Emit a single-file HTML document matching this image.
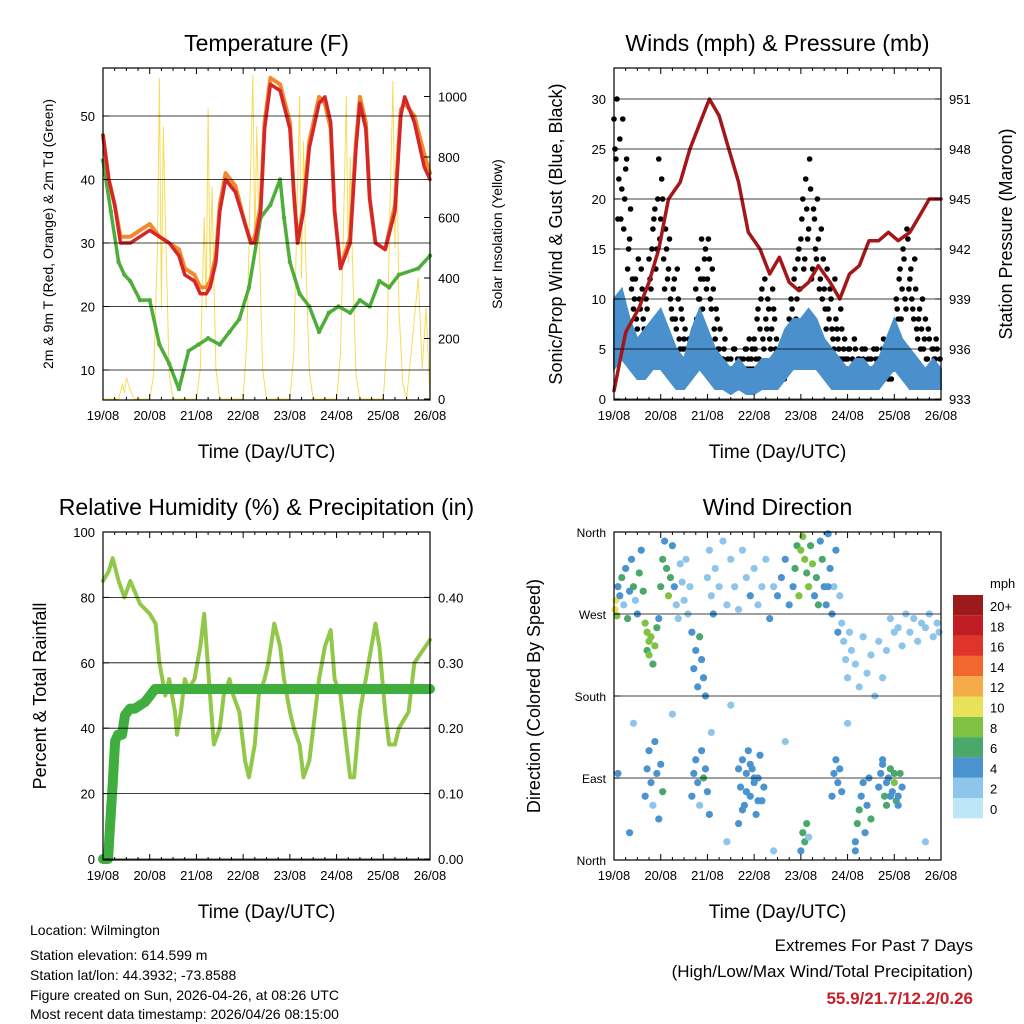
<!DOCTYPE html>
<html><head><meta charset="utf-8"><style>
body{margin:0;background:#fff;}
svg{display:block;font-family:"Liberation Sans",sans-serif;}
</style></head><body>
<svg id="chart" width="1024" height="1024" viewBox="0 0 1024 1024" xmlns="http://www.w3.org/2000/svg">
<rect width="1024" height="1024" fill="#fff"/>
<g id="g"></g>
<text x="30" y="935" font-size="14">Location: Wilmington</text>
<text x="30" y="960" font-size="14">Station elevation: 614.599 m</text>
<text x="30" y="980" font-size="14">Station lat/lon: 44.3932; -73.8588</text>
<text x="30" y="1000" font-size="14">Figure created on Sun, 2026-04-26, at 08:26 UTC</text>
<text x="30" y="1019" font-size="14">Most recent data timestamp: 2026/04/26 08:15:00</text>
<text x="973" y="951" font-size="17" text-anchor="end">Extremes For Past 7 Days</text>
<text x="973" y="977" font-size="17" text-anchor="end">(High/Low/Max Wind/Total Precipitation)</text>
<text x="973" y="1004" font-size="17" font-weight="bold" fill="#c8202a" text-anchor="end">55.9/21.7/12.2/0.26</text>
</svg>
<script>
const dayLabels=["19/08","20/08","21/08","22/08","23/08","24/08","25/08","26/08"];
const tHours=[0,3,6,9,14,19,24,29,34,39,42,47,50,53,55,58,60,63,68,73,76,78,81,83,86,91,96,98,100,103,106,111,114,117,119,122,127,130,132,135,137,140,145,150,153,155,160,165,168];
const tRed=[47,40,36,30,30,31,32,31,30,28,25,24,22,22,23,27,35,40,38,33,30,30,35,48,55,54,48,38,30,35,45,52,53,49,35,26,30,45,52,48,37,30,29,35,50,53,49,42,40];
const tOrange=[47,40,36,31,31,32,33,31,30,29,26,25,23,23,24,28,36,41,39,33,30,31,36,49,56,55,49,38,30,36,46,53,52,48,35,26,31,46,53,49,37,30,29,36,51,52,50,44,41];
const tdHours=[0,4,8,11,14,19,24,29,34,39,44,49,54,60,65,70,75,81,86,91,93,96,101,106,111,116,121,127,132,137,142,147,152,162,168];
const tDew=[43,35,27,25,24,21,21,14,11,7,13,14,15,14,16,18,23,34,36,40,34,27,22,20,16,19,20,19,21,20,24,23,25,26,28];
const solHours=[0,8,10,11,12,14,16,20,24,26,28,29,30,31,32,34,36,44,48,50,52,53,54,55,56,58,60,68,72,74,76,77,78,79,80,82,84,92,96,98,100,101,102,103,104,106,108,116,120,122,124,125,126,127,128,130,132,140,144,146,148,149,150,151,152,154,156,162,164,166,168];
const solar=[0,0,50,20,70,30,0,0,0,80,500,1060,300,900,600,80,0,0,0,100,600,300,960,400,700,100,0,0,0,200,800,1070,500,900,600,100,0,0,0,150,700,1000,400,850,500,90,0,0,0,150,700,1000,450,800,500,80,0,0,0,200,800,1050,500,850,300,50,0,400,100,300,0];
const pHours=[0,6,13,18,23,28,34,39,44,49,54,59,64,69,75,80,85,90,95,100,105,111,116,121,126,131,136,141,146,152,157,162,168];
const pressure=[933.5,937,938.5,940,942,945,946,948,949.5,951,950,948,946,943,942,940.5,941.5,940,939.5,940,941,940,939,940.5,941,942.5,942.5,943,942.5,943,944,945,945];
const windHours=[0,4,8,12,16,20,24,28,32,36,40,44,48,52,56,60,64,68,72,76,80,84,88,92,96,100,104,108,112,116,120,124,128,132,136,140,144,148,152,156,160,164,168];
const windLo=[3,4,3,2,2,3,3,2,1,1,2,3,2,1,1,0.5,1,0.5,0.5,1,1,1,2,3,3,3,3,2,1,1,1,1,1,1,1,2,3,2,1,1,1,1,1];
const windHi=[10,11,8,6,7,8,9,7,5,4,7,9,7,5,4,3,4,3,3,4,4,5,7,8,8,9,8,6,5,4,3,4,4,3,4,6,8,6,5,4,3,4,3];
const gust=[25,30,22,18,28,20,24,15,19,12,10,8,14,9,11,7,10,6,12,15,18,13,20,16,
22,14,17,12,16,9,11,8,13,6,9,5,7,4,6,3,5,3,8,10,12,9,14,11,
16,10,13,7,9,5,7,4,5,3,4,2,3,5,2,4,3,2,4,5,3,6,4,3,
5,8,4,10,6,12,7,9,5,11,8,6,4,3,5,2,4,3,6,9,12,8,14,11,
18,13,22,16,24,12,19,15,20,11,17,14,9,13,8,10,6,12,7,5,9,4,6,3,
5,3,4,6,2,4,3,5,2,3,4,2,3,5,4,3,2,4,6,3,5,4,2,3,
6,9,12,8,15,10,17,11,13,9,14,7,8,5,10,6,4,7,3,5,4,6,3,4];
const gust2=[28,24,18,26,21,17,23,13,16,11,9,12,7,10,13,8,6,9,14,11,17,19,15,24,
18,20,11,15,13,10,8,12,7,10,5,8,6,5,4,6,4,7,11,13,10,16,12,15,
12,14,9,11,6,8,5,3,4,6,3,2,4,3,5,2,3,4,2,3,5,4,3,5,
6,4,9,7,11,5,8,10,6,7,9,5,3,4,2,5,3,4,8,10,7,13,10,15,
16,20,14,19,17,21,13,18,14,16,12,10,11,7,9,11,7,5,8,6,4,7,5,4,
4,5,3,2,5,3,4,2,4,5,3,3,4,2,3,5,4,3,5,4,3,2,4,5,
7,10,8,13,11,14,9,16,12,10,8,11,6,9,7,5,8,4,6,3,5,4,5,3];
const rhHours=[0,3,5,8,11,14,19,24,27,29,32,34,37,38,40,42,44,47,50,52,55,57,60,62,65,67,70,73,75,78,80,83,85,88,91,93,96,98,101,103,106,109,111,114,117,119,122,124,127,129,132,135,137,140,142,145,147,150,152,157,160,168];
const rh=[85,88,92,85,80,85,78,75,72,60,50,55,45,38,45,55,52,55,65,75,50,35,40,50,55,50,45,30,25,35,50,55,60,72,65,55,45,40,35,25,30,45,55,65,70,55,50,40,25,25,45,55,62,72,65,45,35,35,40,45,60,67];
const prHours=[0,2.6,3.6,5.1,6.2,7.7,9.8,11.3,13.9,16.4,21.6,24.2,26.7,168];
const precip=[0,0,0.05,0.12,0.18,0.19,0.19,0.22,0.23,0.23,0.24,0.25,0.26,0.26];
const dirHours=[
0.5,1,1.5,2,3,4,5,6,7,8,
9,10,11,12,13,14,15,16,17,18,
17,18,19,20,21,22,23,24,25,26,
27,28,29,30,31,32,33,34,35,36,
37,38,39,40,41,42,43,44,45,46,
47,48,49,50,51,52,54,56,58,60,
62,64,66,68,70,72,74,76,78,80,
82,84,86,88,90,92,93,94,95,96,
97,98,99,100,101,102,103,104,105,106,
107,108,109,110,111,112,113,114,115,116,
117,118,119,120,121,122,124,126,128,130,
132,134,136,138,152,154,156,158,160,162,
164,166,167,150,148,146,140,144,142,110,
16,17,18,19,20,21,22,23,24,25,
40,41,42,43,44,45,46,47,48,49,
64,65,66,67,68,69,70,71,72,73,
74,75,76,77,64,66,68,70,72,74,
96,97,98,99,112,113,114,115,116,117,
124,125,126,127,128,129,130,131,132,124,
136,137,138,139,140,141,142,143,144,145,
146,147,148,138,140,142,144,146,2,8,
10,30,50,58,60,82,88,100,120,160];
const dirDeg=[
275,285,268,300,290,310,280,320,265,295,
330,300,285,270,315,340,295,260,250,240,
230,225,245,215,235,255,265,300,330,350,
320,290,310,345,300,280,265,325,305,285,
330,270,300,250,210,230,190,245,220,200,
180,310,340,290,270,320,300,350,280,330,
300,275,340,310,290,320,280,300,330,265,
300,290,310,330,280,300,320,345,290,340,
355,330,315,300,345,325,290,310,280,350,
330,300,280,358,320,270,300,340,250,290,
260,240,220,200,250,230,215,190,245,205,
225,180,240,200,250,265,240,260,255,270,
245,260,250,270,235,255,230,250,265,300,
70,100,120,85,60,130,95,45,105,75,
70,95,110,85,60,120,90,100,75,50,
40,80,110,60,95,120,70,100,85,50,
90,115,65,80,100,55,75,105,90,65,
10,30,20,40,70,95,110,85,100,75,
20,40,55,70,85,30,60,90,45,10,
80,95,110,70,60,90,100,75,85,65,
70,95,80,105,85,70,95,60,95,30,
150,160,140,20,170,10,130,25,150,20];
const dirSpd=[
10,9,8,3,4,5,2,4,6,3,
4,5,2,3,6,4,5,7,7,8,
6,7,8,6,7,5,4,6,5,4,
6,7,5,4,3,2,1,2,1,2,
1,2,1,4,4,3,4,5,4,3,
4,2,1,2,3,1,2,1,2,1,
2,1,2,1,3,1,2,1,2,3,
2,3,4,3,4,3,5,6,7,8,
7,8,6,7,5,8,4,6,5,4,
5,4,3,4,3,4,2,3,4,2,
2,1,2,1,2,1,2,1,2,1,
1,2,1,2,1,2,1,2,1,2,
1,2,1,2,1,2,1,2,1,4,
4,3,4,4,2,4,3,4,3,5,
4,3,4,4,2,4,6,4,3,4,
4,3,4,4,3,4,3,4,4,3,
4,3,4,4,4,4,3,4,3,4,
4,6,6,5,3,4,3,4,3,4,
4,5,6,4,4,4,3,4,5,4,
4,3,4,6,5,4,6,4,7,5,
4,5,4,3,4,3,6,4,4,4,
1,2,1,2,1,1,2,1,2,1];

const NS="http://www.w3.org/2000/svg";
const G=document.getElementById('g');
function mk(tag,attrs,parent){const e=document.createElementNS(NS,tag);for(const k in attrs)e.setAttribute(k,attrs[k]);(parent||G).appendChild(e);return e;}
function txt(s,attrs,parent){const e=mk('text',attrs,parent);e.textContent=s;return e;}
function panel(p){
  const g=mk('g',{});
  
  
  p.g=g;
  p.x=h=>p.x0+h/168*(p.x1-p.x0);
  return p;
}
function frame(p){
  const r=mk('rect',{x:p.x0,y:p.y0,width:p.x1-p.x0,height:p.y1-p.y0,fill:'none',stroke:'#000','stroke-width':1.2},p.g);
  
  
  for(let h=0;h<=168;h+=6){
    const X=p.x(h);const L=h%24==0?6:3;
    mk('line',{x1:X,x2:X,y1:p.y1,y2:p.y1-L,stroke:'#000'},p.g);
    mk('line',{x1:X,x2:X,y1:p.y0,y2:p.y0+L,stroke:'#000'},p.g);
  }
  dayLabels.forEach((d,i)=>{
    const t=txt(d,{x:p.x(i*24),y:p.y1+20,'font-size':13,'text-anchor':'middle'},p.g);
    
    
  });
  const xt=txt('Time (Day/UTC)',{x:(p.x0+p.x1)/2,y:p.y1+58,'font-size':19,'text-anchor':'middle'},p.g);
  
  
  const tt=txt(p.title,{x:(p.x0+p.x1)/2,y:p.y0-17,'font-size':23,'text-anchor':'middle'},p.g);
  
  
}
function yAxis(p,scale,ticks,labels,side,grid,fs){
  ticks.forEach((v,i)=>{
    const Y=scale(v);
    if(grid) mk('line',{x1:p.x0,x2:p.x1,y1:Y,y2:Y,stroke:'#000','stroke-width':0.8},p.g);
    const X=side=='l'?p.x0:p.x1;
    mk('line',{x1:X,x2:side=='l'?X+6:X-6,y1:Y,y2:Y,stroke:'#000'},p.g);
    if(labels){
      const t=txt(labels[i],{x:side=='l'?X-8:X+8,y:Y+5,'font-size':fs||13,'text-anchor':side=='l'?'end':'start'},p.g);
      
      
    }
  });
}
function ytitle(p,s,x,fs,name){
  const cy=(p.y0+p.y1)/2;
  const t=txt(s,{x:x,y:cy,'font-size':fs,'text-anchor':'middle',transform:`rotate(-90 ${x} ${cy})`},p.g);
  
  
}
function line(p,hs,vs,sc,color,w,name){
  const d=hs.map((h,i)=>(i?'L':'M')+p.x(h).toFixed(1)+','+sc(vs[i]).toFixed(1)).join('');
  const e=mk('path',{d:d,fill:'none',stroke:color,'stroke-width':w,'stroke-linejoin':'round','stroke-linecap':'round'},p.g);
  
  
  return e;
}
function dots(p,hs,vs,sc,color,r,name){
  const g=mk('g',{},p.g);
  
  
  hs.forEach((h,i)=>{const c=mk('circle',{cx:p.x(h),cy:sc(vs[i]),r:r,fill:color},g);
    
    });
}
// Panel 1
const p1=panel({name:'temperature-panel',x0:103,x1:430,y0:68,y1:400,title:'Temperature (F)'});
const tY=v=>370-(v-10)*6.35, sY=v=>399-v*0.3025;
line(p1,solHours,solar,sY,'#f7dc5a',1,'solar-line');
line(p1,tdHours,tDew,tY,'#4fae3a',3.5,'dewpoint-line');
dots(p1,tdHours,tDew,tY,'#4fae3a',2.2,'dewpoint-dots');
line(p1,tHours,tOrange,tY,'#f08a2a',4,'temp-9m-line');
line(p1,tHours,tRed,tY,'#d7262a',3.5,'temp-2m-line');
yAxis(p1,tY,[10,20,30,40,50],['10','20','30','40','50'],'l',true);
yAxis(p1,sY,[0,200,400,600,800,1000],['0','200','400','600','800','1000'],'r',false);
ytitle(p1,'2m & 9m T (Red, Orange) & 2m Td (Green)',53,14,'y-axis-title');
ytitle(p1,'Solar Insolation (Yellow)',502,14,'y2-axis-title');
frame(p1);
// Panel 2
const p2=panel({name:'winds-panel',x0:614,x1:941,y0:68,y1:400,title:'Winds (mph) & Pressure (mb)'});
const wY=v=>399-v*10, pY=v=>399-(v-933)*50/3;
dots(p2,gust.map((v,i)=>i+0.5),gust,wY,'#000',2.8,'gust-dots');
dots(p2,gust2.map((v,i)=>i),gust2,wY,'#000',2.8,'gust-dots-b');
{
  const up=windHours.map((h,i)=>(i?'L':'M')+p2.x(h).toFixed(1)+','+wY(windHi[i]).toFixed(1)).join('');
  const dn=windHours.slice().reverse().map((h,j)=>{const i=windHours.length-1-j;return 'L'+p2.x(h).toFixed(1)+','+wY(windLo[i]).toFixed(1);}).join('');
  const a=mk('path',{d:up+dn+'Z',fill:'#4a90cc',stroke:'#4a90cc','stroke-width':2},p2.g);
  
  
}
line(p2,pHours,pressure,pY,'#a3161a',3.5,'pressure-line');
yAxis(p2,wY,[0,5,10,15,20,25,30],['0','5','10','15','20','25','30'],'l',true);
yAxis(p2,pY,[933,936,939,942,945,948,951],['933','936','939','942','945','948','951'],'r',false);
ytitle(p2,'Sonic/Prop Wind & Gust (Blue, Black)',562,18,'y-axis-title');
ytitle(p2,'Station Pressure (Maroon)',1012,18,'y2-axis-title');
frame(p2);
// Panel 3
const p3=panel({name:'humidity-panel',x0:103,x1:430,y0:532,y1:860,title:'Relative Humidity (%) & Precipitation (in)'});
const rY=v=>859-v*3.27, qY=v=>859-v*654;
line(p3,rhHours,rh,rY,'#92c84a',4,'rh-line');
line(p3,prHours,precip,qY,'#3fae3f',10,'precip-line');
yAxis(p3,rY,[0,20,40,60,80,100],['0','20','40','60','80','100'],'l',true);
yAxis(p3,qY,[0,0.1,0.2,0.3,0.4],['0.00','0.10','0.20','0.30','0.40'],'r',false);
ytitle(p3,'Percent & Total Rainfall',46,18,'y-axis-title');
frame(p3);
// Panel 4
const p4=panel({name:'wind-direction-panel',x0:614,x1:941,y0:532,y1:860,title:'Wind Direction'});
const dY=v=>860-v/360*328;
const cols=['#bde6f7','#8ec5ea','#4b93cf','#4aa86b','#7fc241','#e8e25a','#f5ab47','#f0682f','#e0342a','#c11e24','#9c1a1c'];
const cg=mk('g',{},p4.g);


dirHours.forEach((h,i)=>{
  const s=dirSpd[i]||0;
  const c=mk('circle',{cx:p4.x(h),cy:dY(dirDeg[i]||0),r:3.6,fill:cols[Math.min(10,Math.round(s/2))]},cg);
  
  
});
yAxis(p4,dY,[0,90,180,270,360],['North','East','South','West','North'],'l',true,12);
frame(p4);
ytitle(p4,'Direction (Colored By Speed)',540,18,'y-axis-title');
const cbLabels=['0','2','4','6','8','10','12','14','16','18','20+'];
const cb=mk('g',{});


cols.forEach((c,i)=>{
  const y=798-i*20.3;
  const r=mk('rect',{x:953,y:y,width:30,height:20.3,fill:c},cb);
  
  
  const t=txt(cbLabels[i],{x:990,y:y+16,'font-size':13},cb);
  
  
});
const mt=txt('mph',{x:990,y:588,'font-size':13},cb);


</script>
</body></html>
